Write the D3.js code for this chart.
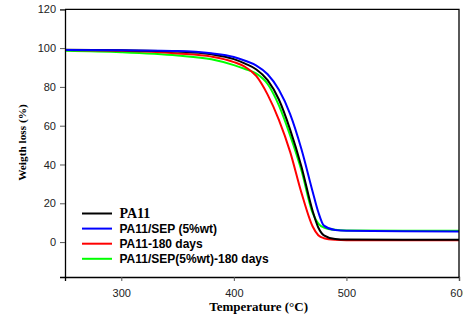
<!DOCTYPE html>
<html>
<head>
<meta charset="utf-8">
<script src="https://cdn.jsdelivr.net/npm/d3@7"></script>
<style>
  html, body { margin: 0; padding: 0; background: #fff; overflow: hidden; }
  .tick text { font-family: "Liberation Sans", Arial, sans-serif; font-size: 11px; fill: #222; }
  .axis-title { font-family: "Liberation Serif", "Times New Roman", serif; font-weight: bold; }
</style>
</head>
<body>
<div id="chart"></div>
<script>
// Temperature (°C) sample points for each curve
const temps = [250, 300, 350, 380, 400, 410, 420, 430, 440, 450, 460, 470, 475, 480, 490, 500, 550, 600];

// Weight (%)
const pa11 =        [99.2, 98.9, 98.2, 96.8, 94.3, 92.0, 89.0, 83.5, 73.5, 58.0, 39.0, 16.0, 7.5, 3.5, 1.6, 1.3, 1.2, 1.2];
const pa11Sep =     [99.0, 98.9, 98.5, 97.3, 95.4, 93.5, 91.0, 86.5, 78.5, 66.0, 48.0, 26.0, 15.5, 8.5, 6.2, 5.8, 5.6, 5.5];
const pa11Aged =    [99.0, 98.6, 97.2, 95.6, 92.8, 90.3, 85.5, 76.0, 63.0, 46.5, 25.5, 8.0, 3.5, 2.0, 1.2, 1.0, 1.0, 1.0];
const pa11SepAged = [98.6, 97.9, 96.2, 94.2, 91.2, 89.2, 86.8, 81.5, 70.5, 55.0, 37.0, 15.0, 9.5, 7.5, 6.3, 6.0, 5.9, 5.8];

const seriesNames = ['PA11', 'PA11/SEP (5%wt)', 'PA11-180 days', 'PA11/SEP(5%wt)-180 days'];
const seriesColors = ['#000000', '#0000ff', '#ff0000', '#00ff00'];

const xTicks = [300, 400, 500, 600];
const yTicks = [0, 20, 40, 60, 80, 100, 120];

const width = 463;
const height = 324;
const margin = { top: 9.3, right: 4, bottom: 47, left: 65 };
const chartWidth = width - margin.left - margin.right;
const chartHeight = height - margin.top - margin.bottom;

const svg = d3.select('#chart')
    .append('svg')
    .attr('width', width)
    .attr('height', height);

const g = svg.append('g')
    .attr('transform', `translate(${margin.left},${margin.top})`);

const xScale = d3.scaleLinear().domain([250, 600]).range([0, chartWidth]);
const yScale = d3.scaleLinear().domain([-18, 120]).range([chartHeight, 0]);

g.append('clipPath').attr('id', 'plot-clip')
    .append('rect')
    .attr('width', chartWidth)
    .attr('height', chartHeight);

// Curves (drawn green, red, black, blue so blue sits on top)
const allSeries = [pa11SepAged, pa11Aged, pa11, pa11Sep];
const order = [3, 2, 0, 1];
const line = d3.line()
    .x(d => xScale(d[0]))
    .y(d => yScale(d[1]))
    .curve(d3.curveMonotoneX);

allSeries.forEach((vals, i) => {
    g.append('path')
        .datum(temps.map((t, j) => [t, vals[j]]))
        .attr('clip-path', 'url(#plot-clip)')
        .attr('d', line)
        .style('fill', 'none')
        .style('stroke', seriesColors[order[i]])
        .style('stroke-width', 2);
});

// Frame (top and right)
g.append('path')
    .attr('d', `M0,0H${chartWidth}V${chartHeight}`)
    .style('fill', 'none')
    .style('stroke', '#000')
    .style('stroke-width', 1.3);

// Axes
const xAxis = g.append('g')
    .attr('transform', `translate(0,${chartHeight})`)
    .call(d3.axisBottom(xScale).tickValues(xTicks).tickSize(4).tickPadding(8));

const yAxis = g.append('g')
    .call(d3.axisLeft(yScale).tickValues(yTicks).tickSize(5).tickPadding(4));

[xAxis, yAxis].forEach(ax => {
    ax.select('.domain').style('stroke', '#000').style('stroke-width', 1.3);
    ax.selectAll('.tick line').style('stroke', '#555');
});

// Axis titles
g.append('text')
    .attr('class', 'axis-title')
    .attr('x', xScale(422))
    .attr('y', chartHeight + 34.5)
    .style('text-anchor', 'middle')
    .style('font-size', '13px')
    .text('Temperature (°C)');

g.append('text')
    .attr('class', 'axis-title')
    .attr('transform', 'rotate(-90)')
    .attr('x', -(yScale(51.3)))
    .attr('y', -39)
    .style('text-anchor', 'middle')
    .style('font-size', '11.3px')
    .text('Weigth loss (%)');

// Legend
const legend = g.append('g')
    .attr('transform', `translate(${82 - margin.left},${213.5 - margin.top})`);

seriesNames.forEach((name, i) => {
    const row = legend.append('g').attr('transform', `translate(0,${i * 15.1})`);
    row.append('line')
        .attr('x1', 0).attr('x2', 30)
        .attr('y1', 0).attr('y2', 0)
        .style('stroke', seriesColors[i])
        .style('stroke-width', 2);
    row.append('text')
        .attr('x', 37.5)
        .attr('y', 4.3)
        .style('font-family', i === 0 ? '"Liberation Serif", serif' : '"Liberation Sans", Arial, sans-serif')
        .style('font-size', i === 0 ? '14px' : '12px')
        .style('font-weight', 'bold')
        .text(name);
});
</script>
</body>
</html>
